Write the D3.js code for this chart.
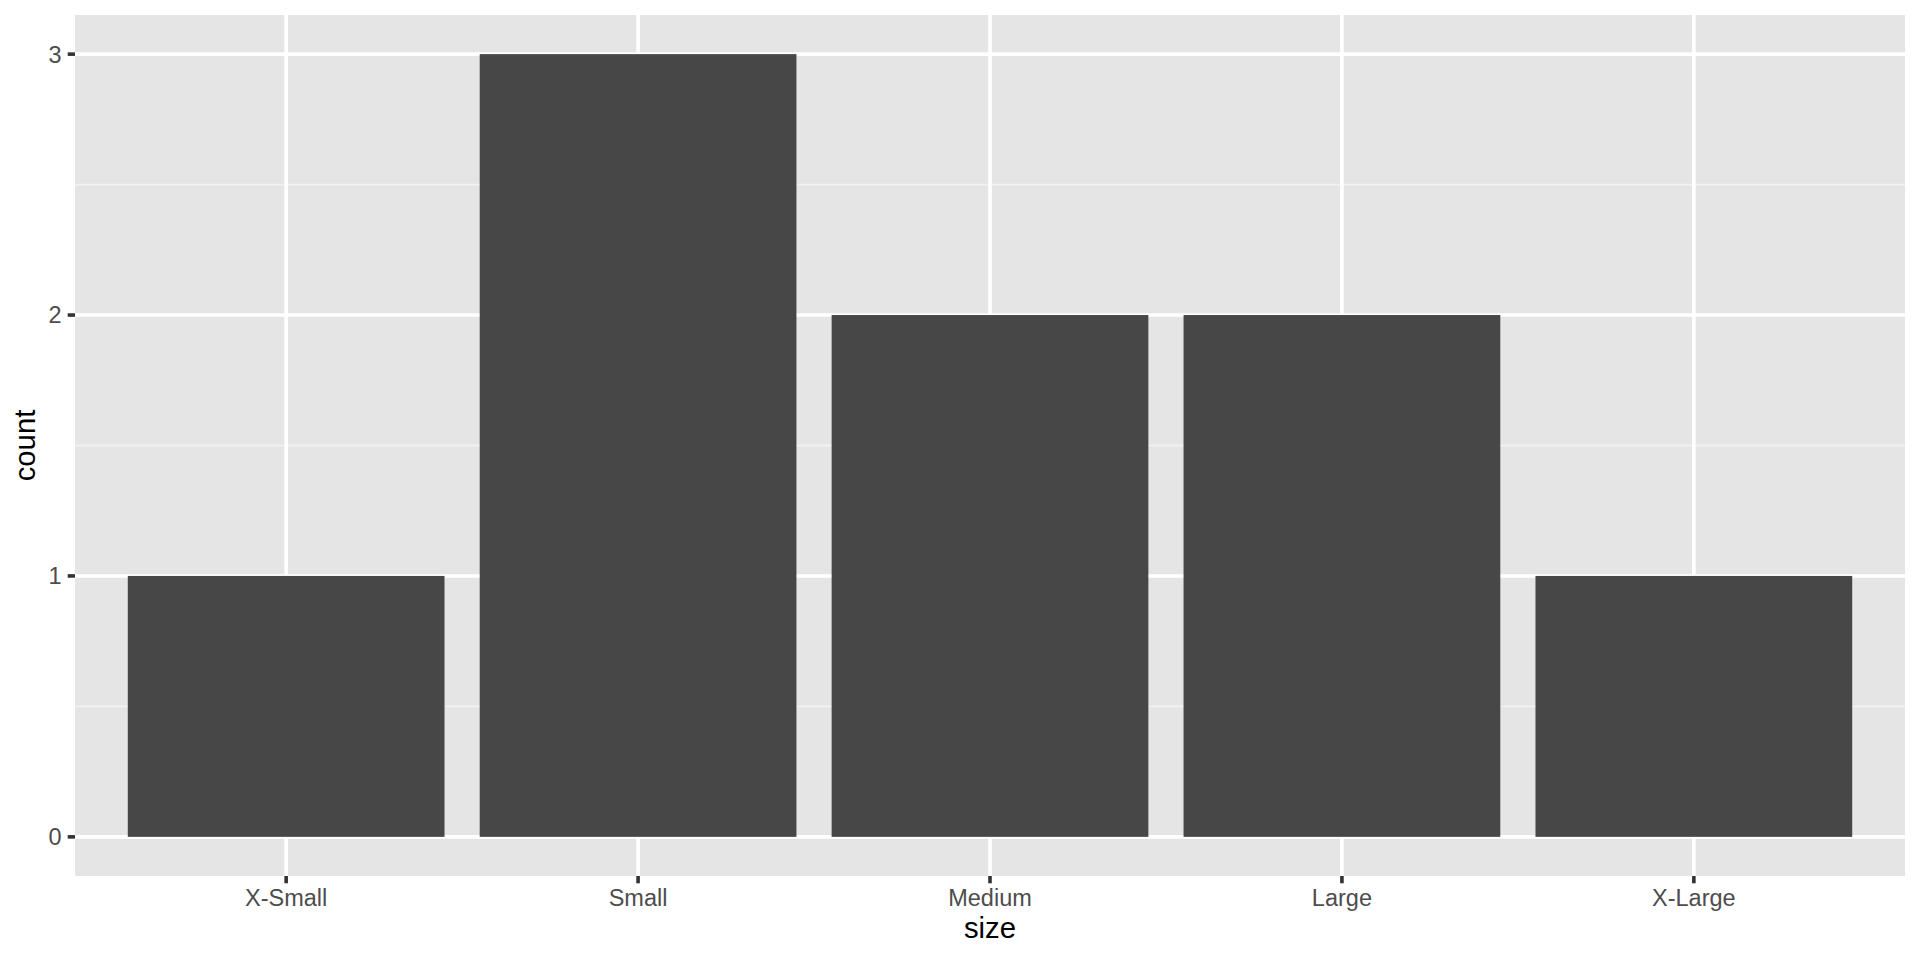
<!DOCTYPE html>
<html><head><meta charset="utf-8">
<script src="https://cdn.jsdelivr.net/npm/d3@7"></script>
<style>body{margin:0;background:#fff}svg{display:block}text{font-family:"Liberation Sans",Arial,Helvetica,sans-serif}</style>
</head><body>
<svg id="c" width="1920" height="960"></svg>
<script>
const categories = ["X-Small","Small","Medium","Large","X-Large"];
const counts = [1,3,2,2,1];
const yTicks = [0,1,2,3];
const yMinor = [0.5,1.5,2.5];

const svg = d3.select("#c");
const L=75, R=1905, T=15, B=876;
const x = d3.scaleLinear().domain([0.4, categories.length+0.6]).range([L,R]);
const y = d3.scaleLinear().domain([-0.15, 3.15]).range([B,T]);
const xi = d => x(categories.indexOf(d)+1);

svg.append("rect").attr("x",L).attr("y",T).attr("width",R-L).attr("height",B-T).attr("fill","#E5E5E5");
svg.selectAll(".ymin").data(yMinor).join("line").attr("x1",L).attr("x2",R)
  .attr("y1",d=>y(d)).attr("y2",d=>y(d)).attr("stroke","#F2F2F2").attr("stroke-width",1.9);
svg.selectAll(".ymaj").data(yTicks).join("line").attr("x1",L).attr("x2",R)
  .attr("y1",d=>y(d)).attr("y2",d=>y(d)).attr("stroke","#fff").attr("stroke-width",3.6);
svg.selectAll(".xmaj").data(categories).join("line").attr("y1",T).attr("y2",B)
  .attr("x1",xi).attr("x2",xi).attr("stroke","#fff").attr("stroke-width",3.6);

svg.selectAll(".bar").data(categories).join("rect")
  .attr("x",d=>xi(d)-(x(1.45)-x(1)))
  .attr("width",x(1.9)-x(1))
  .attr("y",(d,i)=>y(counts[i]))
  .attr("height",(d,i)=>y(0)-y(counts[i]))
  .attr("fill","#474747");

// y axis ticks + labels
svg.selectAll(".yt").data(yTicks).join("line").attr("x1",L-7.3).attr("x2",L)
  .attr("y1",d=>y(d)).attr("y2",d=>y(d)).attr("stroke","#333").attr("stroke-width",3.6);
svg.selectAll(".yl").data(yTicks).join("text").attr("x",L-13.3).attr("y",d=>y(d)+8.4)
  .attr("text-anchor","end").attr("font-size",23.5).attr("fill","#4D4D4D").text(d=>d);
// x axis ticks + labels
svg.selectAll(".xt").data(categories).join("line").attr("y1",B).attr("y2",B+7.3)
  .attr("x1",xi).attr("x2",xi).attr("stroke","#333").attr("stroke-width",3.6);
svg.selectAll(".xl").data(categories).join("text").attr("x",xi).attr("y",906)
  .attr("text-anchor","middle").attr("font-size",23.5).attr("fill","#4D4D4D").text(d=>d);

svg.append("text").attr("x",(L+R)/2).attr("y",938).attr("text-anchor","middle")
  .attr("font-size",29.3).attr("fill","#000").text("size");
svg.append("text").attr("transform",`translate(35,${(T+B)/2}) rotate(-90)`).attr("text-anchor","middle")
  .attr("font-size",29.3).attr("fill","#000").text("count");
</script>
</body></html>
